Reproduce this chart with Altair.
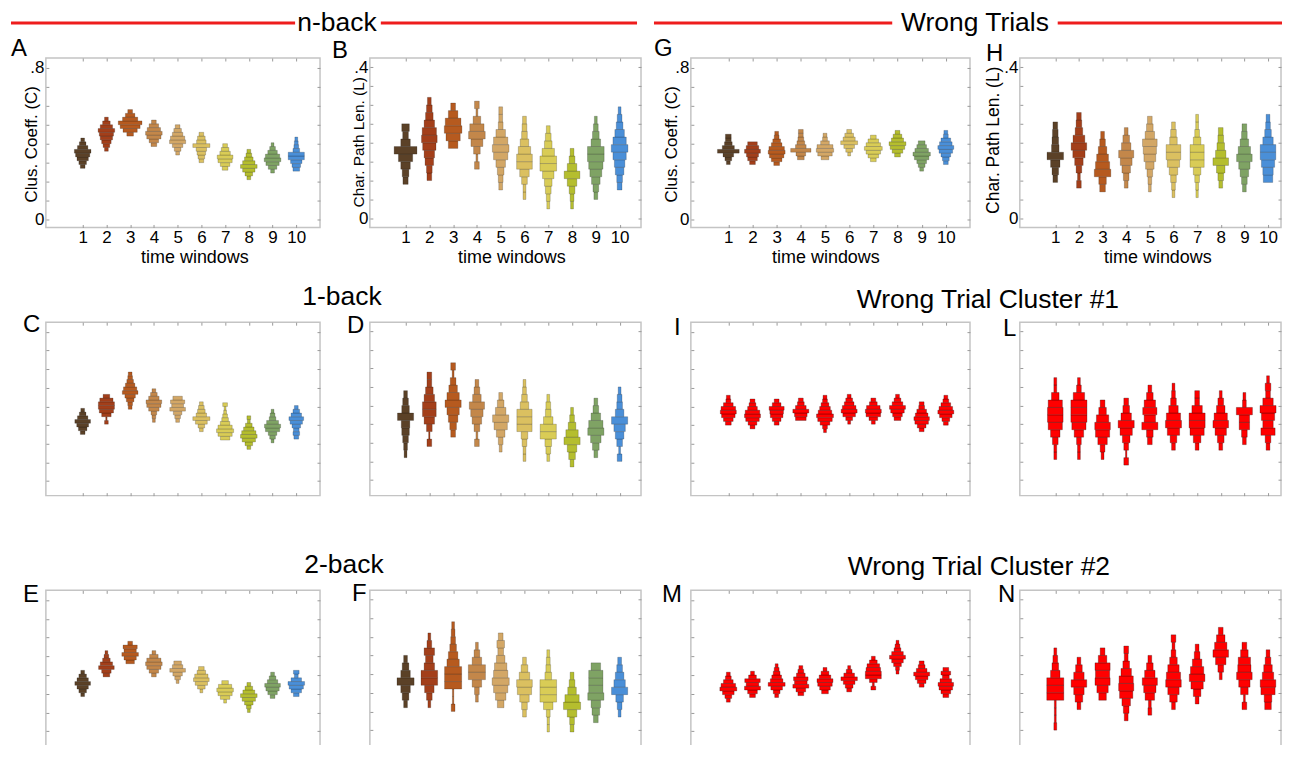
import altair as alt
import pandas as pd

FONT = "Liberation Sans"
WINDOWS = list(range(1, 11))
COLORS = ["#5b4127", "#a33f1a", "#b65a1f", "#c3874a", "#d3a766",
          "#dbc060", "#d9cc56", "#b5be2e", "#7fa364", "#4a8fd8"]
RED = "#ff0000"
BIN = 0.02

# ---- n-back (A, B), 1-back (C, D), 2-back (E, F) ----
A_LO = [0.27, 0.36, 0.44, 0.385, 0.34, 0.30, 0.26, 0.21, 0.245, 0.255]
A_W = [[0.10, 0.16, 0.24, 0.30, 0.35, 0.22, 0.14, 0.08],
       [0.08, 0.14, 0.20, 0.26, 0.30, 0.35, 0.26, 0.16, 0.08],
       [0.14, 0.30, 0.42, 0.50, 0.32, 0.20, 0.10],
       [0.12, 0.20, 0.30, 0.35, 0.28, 0.20, 0.10],
       [0.08, 0.14, 0.22, 0.34, 0.30, 0.22, 0.16, 0.10],
       [0.10, 0.14, 0.18, 0.22, 0.36, 0.20, 0.16, 0.10],
       [0.12, 0.20, 0.30, 0.33, 0.22, 0.16, 0.10],
       [0.08, 0.16, 0.26, 0.35, 0.26, 0.18, 0.12, 0.08],
       [0.08, 0.18, 0.28, 0.35, 0.30, 0.20, 0.12, 0.06],
       [0.14, 0.18, 0.24, 0.34, 0.34, 0.14, 0.10, 0.08, 0.06]]

B_LO = [0.09, 0.10, 0.185, 0.13, 0.075, 0.05, 0.025, 0.025, 0.05, 0.075]
B_W = [[0.11, 0.14, 0.20, 0.30, 0.48, 0.20, 0.12, 0.16],
       [0.10, 0.12, 0.18, 0.22, 0.28, 0.33, 0.30, 0.22, 0.16, 0.12, 0.08],
       [0.20, 0.30, 0.37, 0.33, 0.20, 0.10],
       [0.10, 0.04, 0.14, 0.25, 0.35, 0.30, 0.16, 0.04, 0.10],
       [0.08, 0.10, 0.14, 0.20, 0.30, 0.35, 0.30, 0.20, 0.10, 0.08, 0.08],
       [0.06, 0.06, 0.12, 0.20, 0.33, 0.33, 0.26, 0.18, 0.12, 0.10, 0.08],
       [0.06, 0.08, 0.12, 0.16, 0.24, 0.35, 0.35, 0.26, 0.16, 0.12, 0.08],
       [0.06, 0.08, 0.12, 0.20, 0.33, 0.20, 0.12, 0.08],
       [0.08, 0.12, 0.18, 0.25, 0.30, 0.35, 0.35, 0.20, 0.14, 0.10, 0.06],
       [0.10, 0.12, 0.18, 0.22, 0.28, 0.35, 0.28, 0.20, 0.14, 0.10, 0.06]]

C_LO = [0.25, 0.305, 0.385, 0.315, 0.315, 0.265, 0.22, 0.17, 0.205, 0.225]
C_W = [[0.10, 0.18, 0.25, 0.33, 0.22, 0.14, 0.08],
       [0.08, 0.03, 0.20, 0.30, 0.34, 0.34, 0.28, 0.14],
       [0.08, 0.10, 0.16, 0.22, 0.33, 0.28, 0.20, 0.14, 0.10, 0.08],
       [0.06, 0.08, 0.12, 0.22, 0.30, 0.33, 0.22, 0.14, 0.08],
       [0.08, 0.12, 0.18, 0.33, 0.25, 0.30, 0.20],
       [0.08, 0.14, 0.25, 0.36, 0.22, 0.16, 0.12, 0.08],
       [0.20, 0.30, 0.36, 0.30, 0.20, 0.14, 0.10, 0.06, 0.04, 0.10],
       [0.08, 0.16, 0.28, 0.35, 0.30, 0.22, 0.14, 0.06, 0.08],
       [0.06, 0.12, 0.18, 0.30, 0.34, 0.25, 0.14, 0.10, 0.06],
       [0.10, 0.14, 0.12, 0.18, 0.26, 0.31, 0.22, 0.14, 0.08]]

D_LO = [0.06, 0.09, 0.115, 0.09, 0.075, 0.05, 0.05, 0.035, 0.06, 0.05]
D_W = [[0.06, 0.08, 0.12, 0.16, 0.18, 0.34, 0.16, 0.12, 0.08],
       [0.10, 0.03, 0.12, 0.22, 0.29, 0.29, 0.22, 0.16, 0.10, 0.10],
       [0.10, 0.14, 0.20, 0.26, 0.34, 0.26, 0.18, 0.12, 0.04, 0.10],
       [0.10, 0.04, 0.12, 0.20, 0.26, 0.32, 0.18, 0.12, 0.08],
       [0.06, 0.10, 0.18, 0.28, 0.34, 0.22, 0.14, 0.08],
       [0.06, 0.06, 0.10, 0.14, 0.32, 0.32, 0.32, 0.18, 0.12, 0.08, 0.06],
       [0.06, 0.10, 0.14, 0.34, 0.34, 0.20, 0.12, 0.10, 0.06],
       [0.08, 0.14, 0.20, 0.34, 0.26, 0.16, 0.10, 0.06],
       [0.08, 0.14, 0.22, 0.34, 0.30, 0.20, 0.12, 0.08],
       [0.10, 0.04, 0.12, 0.18, 0.24, 0.34, 0.18, 0.12, 0.10, 0.06]]

E_LO = [0.285, 0.39, 0.46, 0.39, 0.355, 0.305, 0.25, 0.20, 0.275, 0.285]
E_W = [[0.08, 0.16, 0.24, 0.33, 0.24, 0.16, 0.08],
       [0.14, 0.20, 0.33, 0.26, 0.16, 0.10, 0.06],
       [0.18, 0.26, 0.35, 0.26, 0.30, 0.10],
       [0.10, 0.20, 0.30, 0.35, 0.30, 0.18, 0.08],
       [0.06, 0.12, 0.20, 0.33, 0.22, 0.16],
       [0.06, 0.16, 0.26, 0.33, 0.28, 0.18, 0.12],
       [0.06, 0.20, 0.30, 0.35, 0.28, 0.14],
       [0.06, 0.10, 0.18, 0.28, 0.35, 0.25, 0.16, 0.08],
       [0.10, 0.20, 0.28, 0.33, 0.22, 0.14, 0.08],
       [0.12, 0.22, 0.30, 0.35, 0.22, 0.08, 0.12]]

F_LO = [0.11, 0.11, 0.10, 0.125, 0.11, 0.085, 0.045, 0.045, 0.07, 0.085]
F_W = [[0.08, 0.14, 0.20, 0.36, 0.20, 0.14, 0.08],
       [0.06, 0.12, 0.20, 0.35, 0.35, 0.22, 0.16, 0.22, 0.10, 0.06],
       [0.08, 0.03, 0.03, 0.36, 0.36, 0.36, 0.26, 0.20, 0.14, 0.10, 0.08, 0.06],
       [0.06, 0.10, 0.20, 0.36, 0.36, 0.20, 0.12, 0.06],
       [0.14, 0.22, 0.30, 0.36, 0.30, 0.26, 0.18, 0.12, 0.16, 0.10],
       [0.08, 0.12, 0.20, 0.30, 0.33, 0.22, 0.14, 0.08],
       [0.05, 0.05, 0.08, 0.20, 0.35, 0.35, 0.35, 0.14, 0.10, 0.08, 0.06],
       [0.08, 0.10, 0.20, 0.36, 0.30, 0.18, 0.12, 0.08],
       [0.10, 0.16, 0.20, 0.34, 0.30, 0.30, 0.30, 0.20],
       [0.06, 0.10, 0.16, 0.34, 0.24, 0.18, 0.12, 0.08]]

# ---- Wrong trials (G, H), cluster #1 (I, L), cluster #2 (M, N) ----
G_LO = [0.29, 0.29, 0.285, 0.315, 0.315, 0.335, 0.305, 0.33, 0.255, 0.29]
G_W = [[0.08, 0.14, 0.22, 0.45, 0.25, 0.16, 0.12, 0.12],
       [0.12, 0.20, 0.25, 0.33, 0.26, 0.20],
       [0.12, 0.22, 0.30, 0.35, 0.32, 0.22, 0.16, 0.10, 0.08],
       [0.14, 0.20, 0.42, 0.22, 0.16, 0.12, 0.10, 0.10],
       [0.16, 0.30, 0.36, 0.33, 0.18, 0.10, 0.08],
       [0.06, 0.14, 0.22, 0.35, 0.25, 0.18, 0.10],
       [0.12, 0.22, 0.30, 0.37, 0.30, 0.22, 0.12],
       [0.12, 0.22, 0.30, 0.35, 0.25, 0.18, 0.10],
       [0.08, 0.14, 0.20, 0.30, 0.36, 0.28, 0.20, 0.14],
       [0.10, 0.14, 0.20, 0.28, 0.33, 0.26, 0.20, 0.10, 0.08]]

H_LO = [0.095, 0.08, 0.07, 0.08, 0.07, 0.055, 0.055, 0.08, 0.07, 0.095]
H_W = [[0.10, 0.14, 0.20, 0.35, 0.16, 0.14, 0.12, 0.10],
       [0.10, 0.06, 0.12, 0.18, 0.26, 0.33, 0.25, 0.16, 0.12, 0.10],
       [0.12, 0.16, 0.35, 0.30, 0.25, 0.18, 0.12, 0.08],
       [0.08, 0.12, 0.18, 0.25, 0.32, 0.20, 0.14, 0.08],
       [0.06, 0.08, 0.12, 0.18, 0.25, 0.28, 0.31, 0.20, 0.14, 0.10],
       [0.06, 0.08, 0.12, 0.18, 0.26, 0.31, 0.31, 0.16, 0.12, 0.08],
       [0.05, 0.06, 0.10, 0.16, 0.30, 0.30, 0.30, 0.16, 0.10, 0.06, 0.06],
       [0.08, 0.12, 0.18, 0.33, 0.22, 0.16, 0.12, 0.10],
       [0.08, 0.12, 0.18, 0.24, 0.33, 0.26, 0.18, 0.12, 0.10],
       [0.20, 0.22, 0.28, 0.33, 0.33, 0.22, 0.14, 0.10, 0.08]]

I_LO = [0.30, 0.28, 0.30, 0.325, 0.26, 0.305, 0.305, 0.325, 0.265, 0.30]
I_W = [[0.12, 0.20, 0.28, 0.33, 0.30, 0.20, 0.10, 0.08],
       [0.10, 0.18, 0.28, 0.33, 0.30, 0.20, 0.14, 0.10],
       [0.10, 0.18, 0.26, 0.28, 0.31, 0.18, 0.10],
       [0.22, 0.26, 0.33, 0.22, 0.14, 0.10],
       [0.06, 0.10, 0.20, 0.30, 0.35, 0.28, 0.22, 0.16, 0.10, 0.08],
       [0.06, 0.14, 0.26, 0.33, 0.28, 0.20, 0.14, 0.08],
       [0.08, 0.18, 0.30, 0.33, 0.28, 0.16, 0.10],
       [0.14, 0.20, 0.28, 0.33, 0.22, 0.14, 0.08],
       [0.10, 0.18, 0.28, 0.32, 0.26, 0.20, 0.12, 0.10],
       [0.10, 0.16, 0.26, 0.33, 0.28, 0.20, 0.12, 0.08]]

L_LO = [0.055, 0.055, 0.055, 0.04, 0.095, 0.08, 0.08, 0.08, 0.095, 0.08]
L_W = [[0.06, 0.06, 0.12, 0.20, 0.30, 0.33, 0.33, 0.30, 0.16, 0.06, 0.06],
       [0.06, 0.06, 0.10, 0.20, 0.30, 0.34, 0.34, 0.34, 0.24, 0.10, 0.06],
       [0.06, 0.10, 0.20, 0.30, 0.33, 0.26, 0.16, 0.10],
       [0.10, 0.03, 0.10, 0.16, 0.26, 0.34, 0.22, 0.14, 0.10],
       [0.10, 0.14, 0.34, 0.24, 0.30, 0.24, 0.14, 0.08],
       [0.08, 0.14, 0.26, 0.34, 0.30, 0.20, 0.12, 0.08, 0.06],
       [0.08, 0.16, 0.30, 0.34, 0.34, 0.22, 0.10, 0.10],
       [0.08, 0.14, 0.24, 0.33, 0.28, 0.18, 0.12, 0.06],
       [0.08, 0.12, 0.22, 0.22, 0.34, 0.08, 0.06],
       [0.08, 0.12, 0.30, 0.22, 0.28, 0.34, 0.22, 0.10, 0.12, 0.06]]

M_LO = [0.255, 0.28, 0.28, 0.29, 0.30, 0.31, 0.32, 0.405, 0.335, 0.28]
M_W = [[0.08, 0.14, 0.24, 0.35, 0.30, 0.20, 0.12, 0.08],
       [0.12, 0.20, 0.33, 0.26, 0.32, 0.16, 0.08],
       [0.08, 0.14, 0.24, 0.35, 0.26, 0.20, 0.14, 0.10, 0.06],
       [0.12, 0.20, 0.33, 0.26, 0.30, 0.18, 0.12, 0.08],
       [0.14, 0.22, 0.30, 0.33, 0.24, 0.16, 0.08],
       [0.10, 0.16, 0.24, 0.34, 0.22, 0.12, 0.06],
       [0.10, 0.04, 0.16, 0.33, 0.33, 0.30, 0.26, 0.16, 0.08],
       [0.06, 0.08, 0.16, 0.24, 0.33, 0.24, 0.14, 0.10, 0.06],
       [0.10, 0.18, 0.26, 0.33, 0.22, 0.14, 0.10],
       [0.12, 0.20, 0.28, 0.32, 0.24, 0.14, 0.20, 0.12]]

N_LO = [0.05, 0.105, 0.13, 0.075, 0.09, 0.105, 0.12, 0.185, 0.105, 0.105]
N_W = [[0.06, 0.04, 0.04, 0.04, 0.36, 0.36, 0.36, 0.20, 0.14, 0.10, 0.06],
       [0.08, 0.16, 0.22, 0.33, 0.22, 0.14, 0.08],
       [0.16, 0.24, 0.32, 0.30, 0.32, 0.18, 0.10],
       [0.08, 0.12, 0.18, 0.28, 0.32, 0.30, 0.22, 0.14, 0.08, 0.10],
       [0.08, 0.06, 0.20, 0.26, 0.32, 0.22, 0.14, 0.08],
       [0.08, 0.16, 0.24, 0.33, 0.30, 0.24, 0.16, 0.10, 0.06, 0.10],
       [0.08, 0.16, 0.26, 0.33, 0.28, 0.20, 0.12, 0.08],
       [0.06, 0.12, 0.22, 0.33, 0.26, 0.18, 0.10],
       [0.10, 0.04, 0.16, 0.24, 0.33, 0.28, 0.26, 0.16, 0.10],
       [0.14, 0.16, 0.30, 0.33, 0.24, 0.18, 0.12, 0.08]]

Y_TITLE_C = "Clus. Coeff. (C)"
Y_TITLE_L = "Char. Path Len. (L)"
X_TITLE = "time windows"

# ---------------------------------------------------------------------------
COLW = [275, 272, 280, 262]
ROWH = [170, 174, 168]
TICK = "#9a9a9a"
HEAD = 26.5
LETTER = 24


def make_df(lo, widths):
    rows = []
    for k, (base, ws) in enumerate(zip(lo, widths), start=1):
        for i, w in enumerate(ws):
            y0 = base + i * BIN
            rows.append({"window": k, "x": k - w, "x2": k + w,
                         "y": y0, "y2": y0 + BIN})
    return pd.DataFrame(rows)


def text_layer(txt, x, y, size, align="left", baseline="alphabetic"):
    return alt.Chart(pd.DataFrame({"t": [txt]})).mark_text(
        align=align, baseline=baseline, fontSize=size, font=FONT, color="black"
    ).encode(text="t:N", x=alt.value(x), y=alt.value(y))


def red_rule(x1, x2, y):
    return alt.Chart(pd.DataFrame({"t": [0]})).mark_rule(
        color="#ee1c1c", strokeWidth=3
    ).encode(x=alt.value(x1), x2=alt.value(x2), y=alt.value(y))


def panel(lo, widths, kind, col, row, letter, lx, ly, red,
          ytx=0, yty=0, xtx=0, ytfs=17.5, extras=()):
    df = make_df(lo, widths)
    xdom = [-0.55, 11.0] if col in (0, 2) else [-0.5, 10.9]
    if col == 3:
        xdom = [-0.5, 10.55]
    if kind == "C":
        ydom = [-0.078, 0.852] if row == 1 else [-0.042, 0.852]
        yticks = [round(i * 0.1, 3) for i in range(9)]
        top_val, top_txt, ytitle = 0.8, ".8", Y_TITLE_C
    else:
        ydom = [-0.042, 0.424] if row == 1 else [-0.024, 0.424]
        yticks = [round(i * 0.05, 3) for i in range(9)]
        top_val, top_txt, ytitle = 0.4, ".4", Y_TITLE_L
    first = row == 0

    xkw = dict(orient="bottom", values=WINDOWS, offset=-3, tickSize=3,
               domain=False, grid=False, tickColor=TICK, labelOverlap=False,
               labelFlush=False)
    ykw = dict(orient="left", values=yticks, offset=-3, tickSize=3,
               domain=False, grid=False, tickColor=TICK, labelOverlap=False,
               labelFlush=False)
    if first:
        xkw.update(labels=True, labelFontSize=17, labelFont=FONT,
                   labelColor="black", labelPadding=2,
                   title=X_TITLE, titleFontSize=18, titleFont=FONT,
                   titleFontWeight="normal", titleColor="black",
                   titleX=xtx, titleY=24, titleBaseline="top")
        ykw.update(labels=True, labelFontSize=17, labelFont=FONT,
                   labelColor="black", labelPadding=2,
                   labelExpr=f"datum.value == 0 ? '0' : (abs(datum.value - {top_val}) < 0.001 ? '{top_txt}' : '')",
                   title=ytitle, titleFontSize=ytfs, titleFont=FONT,
                   titleFontWeight="normal", titleColor="black",
                   titleX=ytx, titleY=yty, titleBaseline="bottom",
                   titleAngle=270)
    else:
        xkw.update(labels=False, title=None)
        ykw.update(labels=False, title=None)

    xs = alt.Scale(domain=xdom, nice=False, zero=False)
    ys = alt.Scale(domain=ydom, nice=False, zero=False)
    if red:
        color = alt.value(RED)
        stroke_op = 0.45
    else:
        color = alt.Color("window:O", scale=alt.Scale(domain=WINDOWS, range=COLORS),
                          legend=None)
        stroke_op = 0.32

    rects = alt.Chart(df).mark_rect(
        stroke="black", strokeOpacity=stroke_op, strokeWidth=0.6
    ).encode(
        x=alt.X("x:Q", scale=xs, axis=alt.Axis(**xkw)),
        x2="x2:Q",
        y=alt.Y("y:Q", scale=ys, axis=alt.Axis(**ykw)),
        y2="y2:Q",
        color=color,
    )
    ghost = alt.Chart(df).mark_point(opacity=0).encode(
        x=alt.X("x:Q", scale=xs, axis=alt.Axis(
            orient="top", values=WINDOWS, offset=-3, tickSize=3, labels=False,
            domain=False, grid=False, tickColor=TICK, title=None)),
        y=alt.Y("y:Q", scale=ys, axis=alt.Axis(
            orient="right", values=yticks, offset=-3, tickSize=3, labels=False,
            domain=False, grid=False, tickColor=TICK, title=None)),
    )
    layers = [rects, ghost, text_layer(letter, lx, ly, LETTER)] + list(extras)
    return alt.layer(*layers).properties(width=COLW[col], height=ROWH[row])


pA = panel(A_LO, A_W, "C", 0, 0, "A", -35, -2, False, ytx=-8, yty=86, xtx=149,
           ytfs=17,
           extras=[red_rule(-35, 250, -35), red_rule(336, 593, -35),
                   text_layer("n-back", 292, -35, HEAD, "center", "middle")])
pB = panel(B_LO, B_W, "L", 1, 0, "B", -38, 0, False, ytx=-6, yty=84, xtx=142,
           ytfs=15.5)
pG = panel(G_LO, G_W, "C", 2, 0, "G", -37, -2, False, ytx=-13, yty=86, xtx=135,
           ytfs=17,
           extras=[red_rule(-37, 202, -35), red_rule(368, 593, -35),
                   text_layer("Wrong Trials", 285, -35, HEAD, "center", "middle")])
pH = panel(H_LO, H_W, "L", 3, 0, "H", -34, 3, False, ytx=-20, yty=82, xtx=138)

pC = panel(C_LO, C_W, "C", 0, 1, "C", -23, 10, False,
           extras=[text_layer("1-back", 297, -25, HEAD, "center", "middle")])
pD = panel(D_LO, D_W, "L", 1, 1, "D", -23, 11, False)
pI = panel(I_LO, I_W, "C", 2, 1, "I", -17, 13, True,
           extras=[text_layer("Wrong Trial Cluster #1", 298, -22, HEAD, "center", "middle")])
pL = panel(L_LO, L_W, "L", 3, 1, "L", -17, 14, True)

pE = panel(E_LO, E_W, "C", 0, 2, "E", -23, 12, False,
           extras=[text_layer("2-back", 299, -25, HEAD, "center", "middle")])
pF = panel(F_LO, F_W, "L", 1, 2, "F", -18, 11, False)
pM = panel(M_LO, M_W, "C", 2, 2, "M", -29, 12, True,
           extras=[text_layer("Wrong Trial Cluster #2", 289, -23, HEAD, "center", "middle")])
pN = panel(N_LO, N_W, "L", 3, 2, "N", -22, 12, True)

chart = alt.concat(
    pA, pB, pG, pH, pC, pD, pI, pL, pE, pF, pM, pN,
    columns=4, spacing={"row": 95, "column": 50}, bounds="flush", align="each",
).properties(
    padding={"left": 0, "top": 0, "right": 0, "bottom": -16},
    background="white",
).configure_view(
    stroke="#c4c4c4", strokeWidth=1.5
)

chart.save("out.html", embed_options={"renderer": "svg", "actions": False})
